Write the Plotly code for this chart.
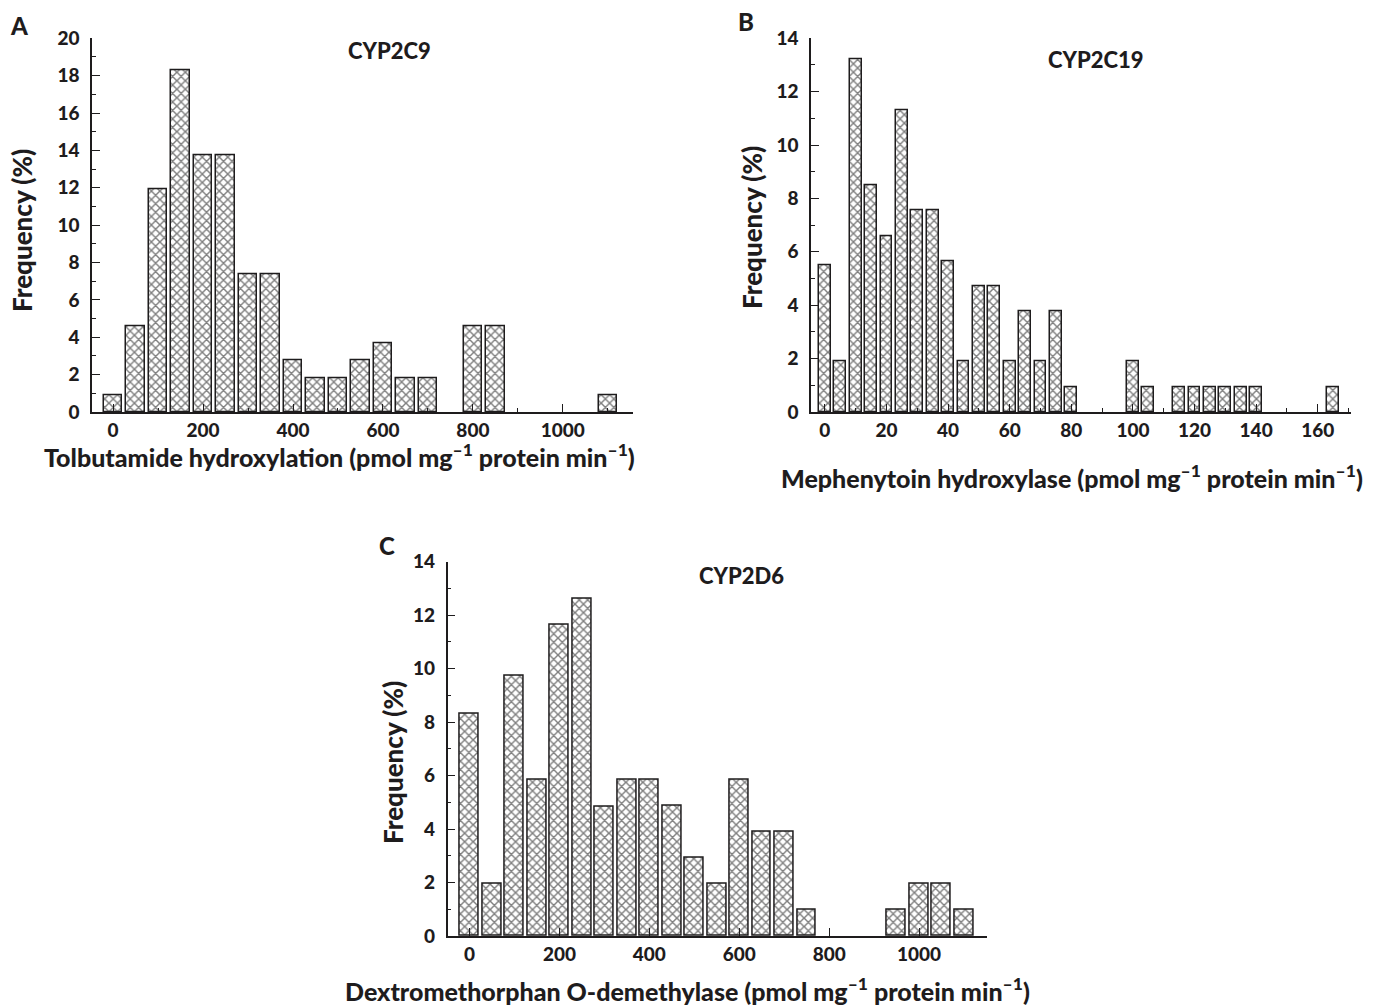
import plotly.graph_objects as go

W, H = 1373, 1008

# ---- data ----
a_bins = [0, 50, 100, 150, 200, 250, 300, 350, 400, 450, 500, 550, 600, 650, 700, 800, 850, 1100]
a_freq = [0.92, 4.6, 11.9, 18.3, 13.75, 13.75, 7.35, 7.35, 2.78, 1.83, 1.83, 2.77, 3.69, 1.83, 1.83, 4.6, 4.6, 0.92]

b_bins = [0, 5, 10, 15, 20, 25, 30, 35, 40, 45, 50, 55, 60, 65, 70, 75, 80, 100, 105,
          115, 120, 125, 130, 135, 140, 165]
b_freq = [5.5, 1.9, 13.2, 8.5, 6.6, 11.3, 7.55, 7.55, 5.65, 1.9, 4.72, 4.72, 1.9, 3.77, 1.9, 3.77, 0.94,
          1.9, 0.94, 0.94, 0.94, 0.94, 0.94, 0.94, 0.94, 0.94]

c_bins = [0, 50, 100, 150, 200, 250, 300, 350, 400, 450, 500, 550, 600, 650, 700, 750, 950, 1000, 1050, 1100]
c_freq = [8.3, 1.97, 9.72, 5.84, 11.66, 12.62, 4.85, 5.84, 5.84, 4.87, 2.93, 1.95, 5.84, 3.9, 3.9, 0.98,
          0.98, 1.95, 1.95, 0.98]

a_title = "CYP2C9"
b_title = "CYP2C19"
c_title = "CYP2D6"
a_xlabel = "Tolbutamide hydroxylation (pmol mg<sup>–1</sup> protein min<sup>–1</sup>)"
b_xlabel = "Mephenytoin hydroxylase (pmol mg<sup>–1</sup> protein min<sup>–1</sup>)"
c_xlabel = "Dextromethorphan O-demethylase (pmol mg<sup>–1</sup> protein min<sup>–1</sup>)"
ylabel = "Frequency (%)"

FONT = "Lato"
WEIGHT = 900
INK = "#1e1c1d"

def px(x):
    return x / W

def py(y):
    return 1 - y / H

pattern = dict(shape="x", fgcolor="#000000", bgcolor="white", size=6, solidity=0.42)

fig = go.Figure()

def add_bars(xs, ys, width, xa, ya):
    fig.add_trace(go.Bar(
        x=xs, y=ys, width=width, xaxis=xa, yaxis=ya,
        marker=dict(color="white", line=dict(color=INK, width=1.5), pattern=pattern),
        showlegend=False, hoverinfo="x+y"))

add_bars(a_bins, a_freq, 41, "x", "y")
add_bars(b_bins, b_freq, 3.8, "x2", "y2")
add_bars(c_bins, c_freq, 42, "x3", "y3")

tickfont = dict(family=FONT, size=19, color=INK, weight=WEIGHT)

def xaxis(domain, rng, dtick, minor_dtick, anchor):
    d = dict(domain=domain, range=rng, anchor=anchor, showgrid=False, zeroline=False,
             showline=True, linecolor=INK, linewidth=1.5, automargin=False,
             ticks="inside", ticklen=8, tickwidth=1.2, tickcolor=INK,
             tick0=0, dtick=dtick, tickfont=tickfont, ticklabelstandoff=0)
    if minor_dtick:
        d["minor"] = dict(dtick=minor_dtick, tick0=0, ticks="inside", ticklen=4,
                          tickwidth=1.2, tickcolor=INK, showgrid=False)
    return d

def yaxis(domain, rng, anchor):
    return dict(domain=domain, range=rng, anchor=anchor, showgrid=False, zeroline=False,
                showline=True, linecolor=INK, linewidth=1.5, automargin=False,
                ticks="inside", ticklen=8, tickwidth=1.2, tickcolor=INK,
                tick0=0, dtick=2, tickfont=tickfont, ticklabelstandoff=7,
                minor=dict(dtick=1, tick0=0, ticks="inside", ticklen=4, tickwidth=1.2,
                           tickcolor=INK, showgrid=False))

top_ab, bot_ab = py(38.3), py(412)
top_c, bot_c = py(561.7), py(936)

fig.update_layout(
    width=W, height=H, autosize=False,
    margin=dict(l=0, r=0, t=0, b=0, pad=0, autoexpand=False),
    paper_bgcolor="white", plot_bgcolor="white",
    bargap=0,
    xaxis=xaxis([px(92), px(633)], [-47, 1156], 200, 100, "y"),
    yaxis=yaxis([bot_ab, top_ab], [0, 20], "x"),
    xaxis2=xaxis([px(811), px(1351)], [-4.5, 170.8], 20, 10, "y2"),
    yaxis2=yaxis([bot_ab, top_ab], [0, 14], "x2"),
    xaxis3=xaxis([px(447.7), px(987)], [-48.5, 1151], 200, None, "y3"),
    yaxis3=yaxis([bot_c, top_c], [0, 14], "x3"),
)

def ann(text, x, y, size, angle=0, yanchor="middle"):
    fig.add_annotation(text=text, x=px(x), y=py(y), xref="paper", yref="paper",
                       xanchor="center", yanchor=yanchor, showarrow=False, textangle=angle,
                       borderpad=0,
                       font=dict(family=FONT, size=size, color=INK, weight=WEIGHT))

# panel letters
ann("A", 19, 25, 24)
ann("B", 746, 21, 24)
ann("C", 387, 545, 24)
# titles
ann(a_title, 389, 50, 22)
ann(b_title, 1096, 59, 22)
ann(c_title, 741, 575, 22)
# x-axis titles
ann(a_xlabel, 339, 456, 25)
ann(b_xlabel, 1072, 476, 25)
ann(c_xlabel, 687, 1007, 25, yanchor="bottom")
# y-axis titles
ann(ylabel, 22, 231, 26, -90)
ann(ylabel, 752, 228, 26, -90)
ann(ylabel, 393, 763, 26, -90)

fig.write_html("out.html", config={"displayModeBar": False},
               post_script="document.body.style.margin='0';document.body.style.overflow='hidden';")
